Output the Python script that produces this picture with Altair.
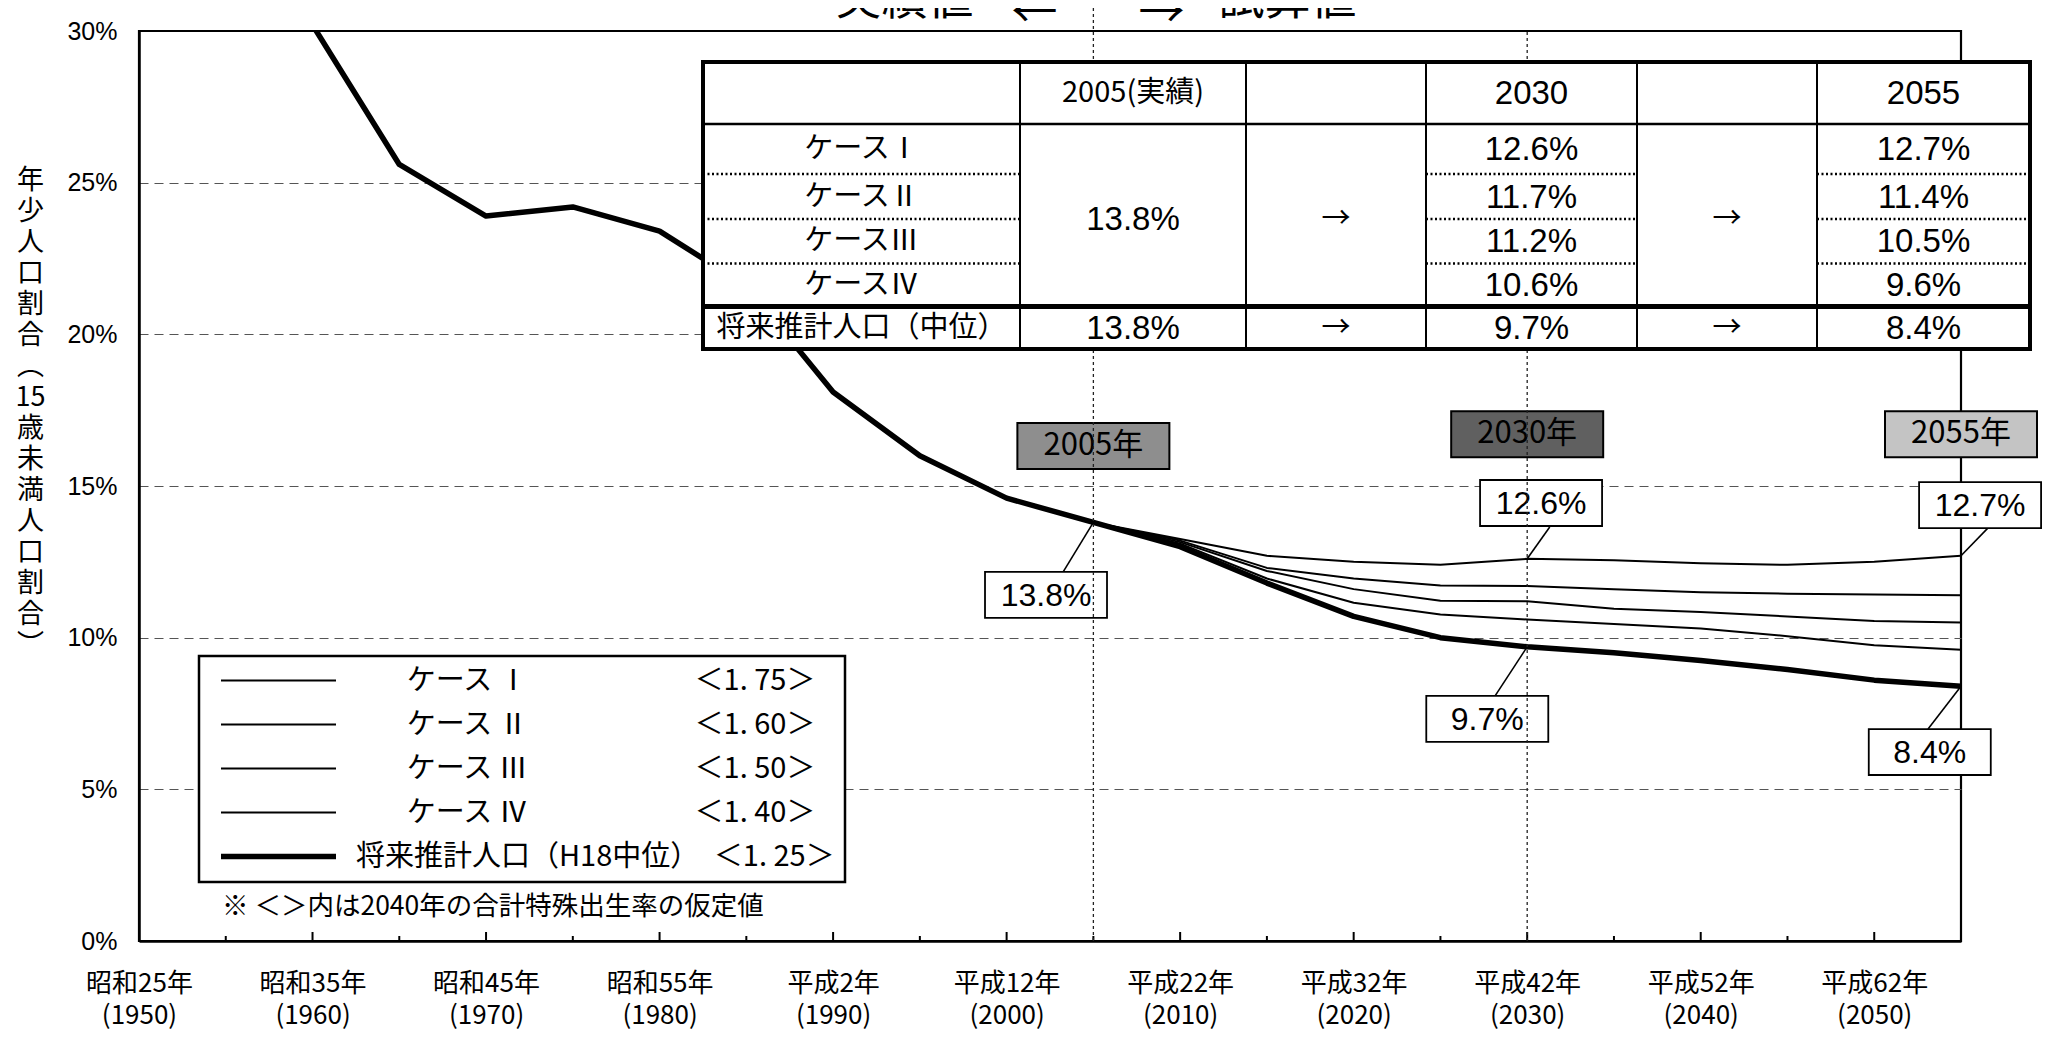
import json
import altair as alt
import pandas as pd

# ---------------- data ----------------
hist_years = [1950, 1955, 1960, 1965, 1970, 1975, 1980, 1985, 1990, 1995, 2000]
hist_values = [35.4, 33.4, 30.2, 25.6, 23.9, 24.2, 23.4, 21.6, 18.1, 16.0, 14.6]

proj_years = [2005, 2010, 2015, 2020, 2025, 2030, 2035, 2040, 2045, 2050, 2055]
case1_values = [13.8, 13.25, 12.7, 12.5, 12.4, 12.6, 12.55, 12.45, 12.4, 12.5, 12.7]
case2_values = [13.8, 13.2, 12.3, 11.95, 11.72, 11.7, 11.6, 11.5, 11.45, 11.42, 11.4]
case3_values = [13.8, 13.15, 12.2, 11.6, 11.22, 11.2, 10.95, 10.85, 10.7, 10.55, 10.5]
case4_values = [13.8, 13.1, 11.95, 11.15, 10.76, 10.6, 10.45, 10.3, 10.05, 9.75, 9.6]
medium_values = [13.8, 13.0, 11.8, 10.7, 10.0, 9.7, 9.5, 9.25, 8.95, 8.6, 8.4]

series_names = ["ケース Ⅰ", "ケース Ⅱ", "ケース Ⅲ", "ケース Ⅳ", "将来推計人口（H18中位）"]
tfr_labels = ["＜1. 75＞", "＜1. 60＞", "＜1. 50＞", "＜1. 40＞", "＜1. 25＞"]

tick_years = [1950, 1960, 1970, 1980, 1990, 2000, 2010, 2020, 2030, 2040, 2050]
era_labels = ["昭和25年", "昭和35年", "昭和45年", "昭和55年", "平成2年", "平成12年",
              "平成22年", "平成32年", "平成42年", "平成52年", "平成62年"]
minor_tick_years = [1955, 1965, 1975, 1985, 1995, 2005, 2015, 2025, 2035, 2045]
y_tick_values = [0, 5, 10, 15, 20, 25, 30]
y_title_chars = ["年", "少", "人", "口", "割", "合", "︵", "15", "歳", "未", "満",
                 "人", "口", "割", "合", "︶"]

divider_years = [2005, 2030]
header_texts = ["実績値", "←", "→", "試算値"]

marker_years = [2005, 2030, 2055]
marker_labels = ["2005年", "2030年", "2055年"]
marker_anchor_values = [16.32, 16.71, 16.71]

callout_years = [2005, 2030, 2055, 2030, 2055]
callout_values = [13.8, 12.6, 12.7, 9.7, 8.4]
callout_texts = ["13.8%", "12.6%", "12.7%", "9.7%", "8.4%"]
callout_box_years = [2002.27, 2030.8, 2056.1, 2027.7, 2053.2]
callout_box_values = [11.41, 14.44, 14.37, 7.32, 6.23]
callout_tip_years = [2003.25, 2031.3, 2056.56, 2028.15, 2053.1]
callout_tip_values = [12.16, 13.65, 13.62, 8.08, 6.99]

note_text = "※ ＜＞内は2040年の合計特殊出生率の仮定値"

table_header = ["", "2005(実績)", "", "2030", "", "2055"]
table_case_rows = ["ケースⅠ", "ケースⅡ", "ケースⅢ", "ケースⅣ"]
table_2005_value = "13.8%"
table_2030_values = ["12.6%", "11.7%", "11.2%", "10.6%"]
table_2055_values = ["12.7%", "11.4%", "10.5%", "9.6%"]
table_medium_row = ["将来推計人口（中位）", "13.8%", "→", "9.7%", "→", "8.4%"]
table_arrow = "→"

# ---------------- layout / style constants ----------------
W, H = 1822, 910
TABLE_X_EDGES = [564, 881, 1107, 1287, 1498, 1678, 1891]
TABLE_Y_EDGES = [31, 93, 143, 188, 232.5, 275.5, 318]
MARKER_FILLS = ["#8e8e8e", "#606060", "#c4c4c4"]
HEADER_DX = [-120, -36, 45, 125]
HEADER_ALIGN = ["right", "right", "left", "left"]
HEADER_Y = [-17, -4, -4, -17]
CJK = "Noto Sans CJK JP"
LAT = "Liberation Sans"
CALLOUT_BOX = "M-1,-0.377L1,-0.377L1,0.377L-1,0.377Z"
MARKER_BOX = "M-1,-0.3026L1,-0.3026L1,0.3026L-1,0.3026Z"
LEAD_PAD = "\u200b\u3000\u2002\u2005"
CASE_GAP = "\u3000" * 5 + "\u2002\u2005"
MEDIUM_GAP = "\u3000"

# ---------------- frames ----------------
# legend label = name + fertility assumption, padded so the two columns line up
legend_labels = []
for i, name in enumerate(series_names):
    if i < 4:
        legend_labels.append(LEAD_PAD + name + CASE_GAP + tfr_labels[i])
    else:
        legend_labels.append(name + MEDIUM_GAP + tfr_labels[i])

rows = []
for vals, lab in zip([case1_values, case2_values, case3_values, case4_values], legend_labels[:4]):
    for y, v in zip(proj_years, vals):
        rows.append({"year": y, "value": v, "series": lab})
for y, v in zip(hist_years + proj_years, hist_values + medium_values):
    rows.append({"year": y, "value": v, "series": legend_labels[4]})
lines_df = pd.DataFrame(rows)


def x_scale():
    return alt.Scale(domain=[1950, 2055], nice=False, zero=False)


def y_scale():
    return alt.Scale(domain=[0, 30], nice=False, zero=False)


def X(f):
    return alt.X(f, type="quantitative", scale=x_scale(), axis=None)


def Y(f):
    return alt.Y(f, type="quantitative", scale=y_scale(), axis=None)


def YD(v):
    return alt.YDatum(v, type="quantitative", scale=y_scale(), axis=None)


era_js = json.dumps(era_labels, ensure_ascii=False)
years_js = json.dumps(tick_years)
x_axis = alt.Axis(
    values=tick_years, title=None, ticks=False, tickSize=0, grid=False,
    domainColor="black", domainWidth=2.5,
    labelExpr=f"[{era_js}[indexof({years_js}, datum.value)], '(' + datum.value + ')']",
    labelFont=CJK, labelFontSize=26, labelColor="black", labelLineHeight=32,
    labelBaseline="top", labelPadding=29, labelFlush=False, labelOverlap=False, labelAngle=0,
)
y_axis = alt.Axis(
    values=y_tick_values, ticks=False, tickSize=0,
    domainColor="black", domainWidth=2.5,
    labelExpr="datum.value + '%'", labelFont=LAT, labelFontSize=25, labelColor="black",
    labelPadding=22, labelFlush=False,
    grid=True, gridColor="#555555", gridWidth=1.2, gridDash=[9, 6],
    gridOpacity=alt.condition("datum.value == 0 || datum.value == 30", alt.value(0), alt.value(1)),
    title=y_title_chars, titleAngle=0, titleAlign="center", titleBaseline="top",
    titleX=-109, titleY=136, titleFont=CJK, titleFontSize=27, titleFontWeight="normal",
    titleLineHeight=31, titleColor="black",
)
legend = alt.Legend(
    title=None, orient="none", legendX=60, legendY=625, direction="vertical",
    symbolType="stroke", symbolSize=13225, symbolOffset=9, clipHeight=29,
    labelFont=CJK, labelFontSize=29, labelColor="black", labelLimit=900, labelOffset=17,
    rowPadding=14, padding=10, strokeColor="black", fillColor="white",
)

layers = []

layers.append(alt.Chart(lines_df).mark_line(clip=True, strokeJoin="round").encode(
    x=alt.X("year:Q", scale=x_scale(), axis=x_axis),
    y=alt.Y("value:Q", scale=y_scale(), axis=y_axis),
    color=alt.Color("series:N", scale=alt.Scale(type="ordinal", domain=legend_labels, range=["black"] * 5), legend=legend),
    strokeWidth=alt.StrokeWidth("series:N", scale=alt.Scale(type="ordinal", domain=legend_labels, range=[2, 2, 2, 2, 5.5]), legend=legend),
))

layers.append(alt.Chart(pd.DataFrame({"year": tick_years[1:]})).mark_rule(color="black", strokeWidth=2).encode(
    x=X("year"), y=YD(0), y2=alt.value(H - 9)))
layers.append(alt.Chart(pd.DataFrame({"year": minor_tick_years})).mark_rule(color="black", strokeWidth=2).encode(
    x=X("year"), y=YD(0), y2=alt.value(H - 5)))

callout_df = pd.DataFrame({
    "year": callout_years, "value": callout_values, "t": callout_texts,
    "bx": callout_box_years, "by": callout_box_values,
    "tx": callout_tip_years, "ty": callout_tip_values,
})
layers.append(alt.Chart(callout_df).mark_rule(color="black", strokeWidth=1.6).encode(
    x=X("year"), y=Y("value"), x2="tx:Q", y2="ty:Q"))
layers.append(alt.Chart(callout_df).mark_point(
    shape=CALLOUT_BOX, size=14884, filled=True, fill="white", stroke="black", strokeWidth=1.8, opacity=1
).encode(x=X("bx"), y=Y("by")))
layers.append(alt.Chart(callout_df).mark_text(font=LAT, fontSize=32, color="black", baseline="middle", dy=1).encode(
    x=X("bx"), y=Y("by"), text="t:N"))

marker_df = pd.DataFrame({"year": marker_years, "v": marker_anchor_values, "t": marker_labels})
layers.append(alt.Chart(marker_df).mark_point(
    shape=MARKER_BOX, size=23104, filled=True, stroke="black", strokeWidth=2, opacity=1
).encode(x=X("year"), y=Y("v"),
         fill=alt.Fill("t:N", scale=alt.Scale(domain=marker_labels, range=MARKER_FILLS), legend=None)))
layers.append(alt.Chart(marker_df).mark_text(font=CJK, fontSize=31, color="black", baseline="middle").encode(
    x=X("year"), y=Y("v"), text="t:N"))

div_df = pd.DataFrame({"year": divider_years})
layers.append(alt.Chart(div_df.iloc[:1]).mark_rule(color="#222222", strokeWidth=1.3, strokeDash=[3, 3]).encode(
    x=X("year"), y=YD(0), y2=alt.value(-24)))
layers.append(alt.Chart(div_df.iloc[1:]).mark_rule(color="#222222", strokeWidth=1.3, strokeDash=[3, 3]).encode(
    x=X("year"), y=YD(0), y2=alt.datum(30)))

for txt, dx, al, yy in zip(header_texts, HEADER_DX, HEADER_ALIGN, HEADER_Y):
    layers.append(alt.Chart(pd.DataFrame({"year": [divider_years[0]], "t": [txt]})).mark_text(
        font=CJK, fontSize=46, color="black", align=al, baseline="alphabetic", dx=dx
    ).encode(x=X("year"), y=alt.value(yy), text="t:N"))

layers.append(alt.Chart(pd.DataFrame({"t": [note_text]})).mark_text(
    font=CJK, fontSize=26.5, color="black", align="left", baseline="middle"
).encode(x=alt.value(83), y=alt.value(876), text="t:N"))

# ---------------- table (own piecewise scales: column / row index -> plot pixels) ----------------


def TX(f):
    return alt.X(f, type="quantitative", axis=None,
                 scale=alt.Scale(domain=list(range(7)), range=TABLE_X_EDGES, nice=False, zero=False))


def TY(f):
    return alt.Y(f, type="quantitative", axis=None,
                 scale=alt.Scale(domain=list(range(7)), range=TABLE_Y_EDGES, nice=False, zero=False))


n_cols = len(table_header)
n_rows = 2 + len(table_case_rows)
box_df = pd.DataFrame({"c0": [0], "c1": [n_cols], "r0": [0], "r1": [n_rows]})
layers.append(alt.Chart(box_df).mark_rect(fill="white", strokeWidth=0).encode(
    x=TX("c0"), x2="c1:Q", y=TY("r0"), y2="r1:Q"))
col_df = pd.DataFrame({"c": list(range(1, n_cols)), "r0": 0, "r1": n_rows})
layers.append(alt.Chart(col_df).mark_rule(color="black", strokeWidth=2).encode(x=TX("c"), y=TY("r0"), y2="r1:Q"))
layers.append(alt.Chart(pd.DataFrame({"c0": [0], "c1": [n_cols], "r": [1]})).mark_rule(color="black", strokeWidth=2.5).encode(
    x=TX("c0"), x2="c1:Q", y=TY("r")))
dot_rows = []
for r in range(2, 1 + len(table_case_rows)):
    for c in (0, 3, 5):
        dot_rows.append({"c0": c, "c1": c + 1, "r": r})
layers.append(alt.Chart(pd.DataFrame(dot_rows)).mark_rule(color="black", strokeWidth=2.5, strokeDash=[2, 2.5]).encode(
    x=TX("c0"), x2="c1:Q", y=TY("r")))
layers.append(alt.Chart(pd.DataFrame({"c0": [0], "c1": [n_cols], "r": [n_rows - 1]})).mark_rule(color="black", strokeWidth=5).encode(
    x=TX("c0"), x2="c1:Q", y=TY("r")))
layers.append(alt.Chart(box_df).mark_rect(fill="white", fillOpacity=0, stroke="black", strokeWidth=4).encode(
    x=TX("c0"), x2="c1:Q", y=TY("r0"), y2="r1:Q"))

cjk_cells, num_cells = [], []
for c, h in enumerate(table_header):
    if h:
        (cjk_cells if "実" in h else num_cells).append({"cx": c + 0.5, "ry": 0.5, "t": h})
mid_case = 1 + len(table_case_rows) / 2
for i, name in enumerate(table_case_rows):
    cjk_cells.append({"cx": 0.5, "ry": 1.5 + i, "t": name})
    num_cells.append({"cx": 3.5, "ry": 1.5 + i, "t": table_2030_values[i]})
    num_cells.append({"cx": 5.5, "ry": 1.5 + i, "t": table_2055_values[i]})
num_cells.append({"cx": 1.5, "ry": mid_case, "t": table_2005_value})
cjk_cells.append({"cx": 2.5, "ry": mid_case, "t": table_arrow})
cjk_cells.append({"cx": 4.5, "ry": mid_case, "t": table_arrow})
for c, v in enumerate(table_medium_row):
    (cjk_cells if (c == 0 or v == table_arrow) else num_cells).append({"cx": c + 0.5, "ry": n_rows - 0.5, "t": v})

layers.append(alt.Chart(pd.DataFrame(cjk_cells)).mark_text(font=CJK, fontSize=29, color="black", baseline="middle").encode(
    x=TX("cx"), y=TY("ry"), text="t:N"))
layers.append(alt.Chart(pd.DataFrame(num_cells)).mark_text(font=LAT, fontSize=33, color="black", baseline="middle", dy=1).encode(
    x=TX("cx"), y=TY("ry"), text="t:N"))

chart = alt.layer(*layers).resolve_scale(x="independent", y="independent").properties(
    width=W, height=H,
    autosize=alt.AutoSizeParams(type="none"),
    padding={"left": 131, "top": 23, "right": 89, "bottom": 92},
    background="white",
).configure_view(stroke="black", strokeWidth=2.2).configure_legend(strokeWidth=2.5)

chart.save("out.html", embed_options={"renderer": "svg", "actions": False})
